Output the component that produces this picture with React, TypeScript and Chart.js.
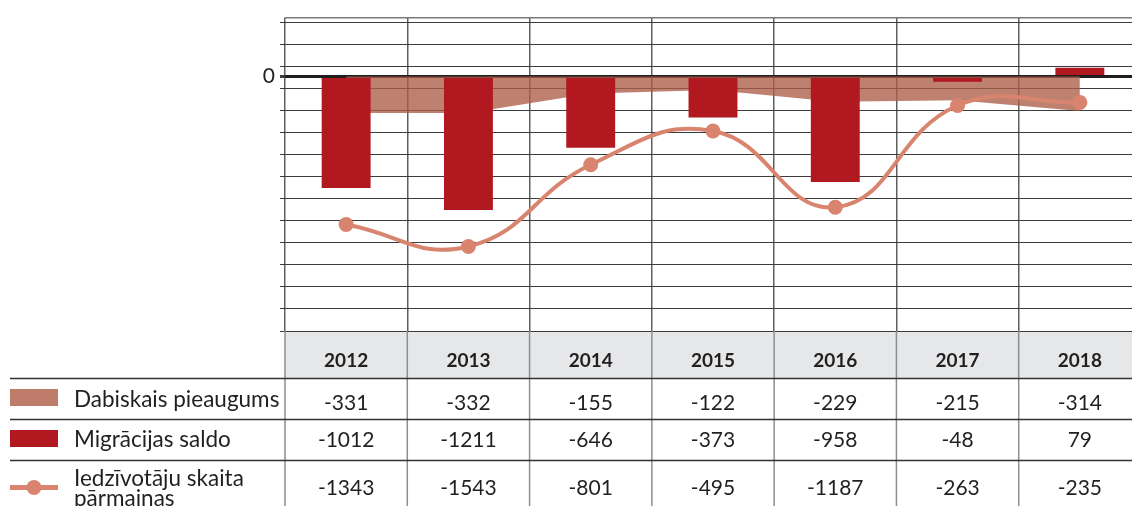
import { useEffect, useRef } from "react";
import { Chart, registerables } from "chart.js";

Chart.register(...registerables);

const years = ["2012", "2013", "2014", "2015", "2016", "2017", "2018"];
const naturalGrowth = [-331, -332, -155, -122, -229, -215, -314];
const migrationBalance = [-1012, -1211, -646, -373, -958, -48, 79];
const populationChange = [-1343, -1543, -801, -495, -1187, -263, -235];
const seriesLabels = ["Dabiskais pieaugums", "Migrācijas saldo", "Iedzīvotāju skaita pārmaiņas"];

const Y_MIN = -2310;
const Y_MAX = 535;
const GRID_STEP = 200;

const AREA_COLOR = "rgba(172, 92, 70, 0.78)";
const AREA_SWATCH = "#bf7c6b";
const BAR_COLOR = "#b11820";
const LINE_COLOR = "#d9846f";
const TEXT_COLOR = "#231f20";
const FONT = "Lato, 'Open Sans', sans-serif";

const RIGHT_PAD = 8;
const CANVAS_W = 1141 + RIGHT_PAD;
const CANVAS_H = 506;

function wrapText(ctx: CanvasRenderingContext2D, text: string, maxW: number): string[] {
  const words = text.split(" ");
  const lines: string[] = [];
  let cur = "";
  for (const w of words) {
    const t = cur ? cur + " " + w : w;
    if (ctx.measureText(t).width > maxW && cur) {
      lines.push(cur);
      cur = w;
    } else cur = t;
  }
  if (cur) lines.push(cur);
  return lines;
}

const tablePlugin = {
  id: "dataTable",
  afterDraw(chart: any) {
    const ctx: CanvasRenderingContext2D = chart.ctx;
    const { left, right, bottom } = chart.chartArea;
    const xs = chart.scales.x;
    const n = years.length;
    const colW = (right - left) / n;
    const H = chart.height;
    const headerBottom = 378;
    const rowLines = [378.5, 419.5, 460.5];
    const rowCenters = [403, 440.5, 488];

    ctx.save();
    ctx.fillStyle = "#e6e7e9";
    ctx.fillRect(left, bottom + 1, right - left, headerBottom - bottom - 1);

    ctx.strokeStyle = "#8e8e8e";
    ctx.lineWidth = 1.5;
    for (let i = 0; i <= n; i++) {
      const x = left + i * colW;
      ctx.beginPath();
      ctx.moveTo(x, bottom);
      ctx.lineTo(x, H);
      ctx.stroke();
    }

    ctx.strokeStyle = "#333";
    ctx.lineWidth = 1.5;
    for (const y of rowLines) {
      ctx.beginPath();
      ctx.moveTo(10, y);
      ctx.lineTo(right, y);
      ctx.stroke();
    }

    ctx.fillStyle = TEXT_COLOR;
    ctx.textAlign = "center";
    ctx.textBaseline = "middle";
    ctx.font = `bold 19px ${FONT}`;
    years.forEach((yr, i) => {
      ctx.fillText(yr, xs.getPixelForValue(i), 361);
    });

    ctx.font = `21px ${FONT}`;
    const rows = [naturalGrowth, migrationBalance, populationChange];
    rows.forEach((row, r) => {
      row.forEach((v, i) => {
        ctx.fillText(String(v), xs.getPixelForValue(i), rowCenters[r]);
      });
    });

    ctx.fillStyle = AREA_SWATCH;
    ctx.fillRect(10, 389, 48, 17);
    ctx.fillStyle = BAR_COLOR;
    ctx.fillRect(10, 430, 48, 17);
    ctx.strokeStyle = LINE_COLOR;
    ctx.lineWidth = 5;
    ctx.beginPath();
    ctx.moveTo(10, 487.5);
    ctx.lineTo(58, 487.5);
    ctx.stroke();
    ctx.fillStyle = LINE_COLOR;
    ctx.beginPath();
    ctx.arc(34, 487.5, 7.5, 0, Math.PI * 2);
    ctx.fill();

    ctx.fillStyle = TEXT_COLOR;
    ctx.textAlign = "left";
    ctx.textBaseline = "alphabetic";
    ctx.font = `22.5px ${FONT}`;
    ctx.fillText(seriesLabels[0], 74, 407);
    ctx.fillText(seriesLabels[1], 74, 447);
    const lines = wrapText(ctx, seriesLabels[2], left - 80);
    lines.forEach((ln, k) => ctx.fillText(ln, 74, 486 + k * 20));
    ctx.restore();
  },
};

export default function App() {
  const ref = useRef<HTMLCanvasElement>(null);

  useEffect(() => {
    if (!ref.current) return;
    const chart = new Chart(ref.current, {
      type: "bar",
      data: {
        labels: years,
        datasets: [
          {
            type: "line",
            label: seriesLabels[2],
            data: populationChange,
            borderColor: LINE_COLOR,
            backgroundColor: LINE_COLOR,
            borderWidth: 4,
            tension: 0.45,
            pointRadius: 7.5,
            pointHoverRadius: 7.5,
            pointBackgroundColor: LINE_COLOR,
            pointBorderWidth: 0,
            fill: false,
            order: 0,
          } as any,
          {
            type: "bar",
            label: seriesLabels[1],
            data: migrationBalance,
            backgroundColor: BAR_COLOR,
            barPercentage: 0.4,
            categoryPercentage: 1,
            order: 1,
          } as any,
          {
            type: "line",
            label: seriesLabels[0],
            data: naturalGrowth,
            borderWidth: 0,
            borderColor: "transparent",
            backgroundColor: AREA_COLOR,
            pointRadius: 0,
            tension: 0,
            fill: "origin",
            order: 2,
          } as any,
        ],
      },
      options: {
        responsive: true,
        maintainAspectRatio: false,
        animation: false,
        devicePixelRatio: 1,
        layout: { padding: { top: 13, bottom: 175, left: 0, right: RIGHT_PAD } },
        plugins: { legend: { display: false }, tooltip: { enabled: false } },
        scales: {
          x: {
            type: "category",
            offset: true,
            grid: { offset: true, color: "#5f5f5f", lineWidth: 1.5, drawTicks: false },
            ticks: { display: false },
            border: { display: false },
            afterFit: (s: any) => {
              s.height = 0;
            },
          },
          y: {
            min: Y_MIN,
            max: Y_MAX,
            afterBuildTicks: (s: any) => {
              const t: { value: number }[] = [];
              for (let v = Y_MIN; v < Y_MAX; v += GRID_STEP) t.push({ value: v });
              t.push({ value: 0 });
              t.push({ value: Y_MAX });
              t.sort((a, b) => a.value - b.value);
              s.ticks = t;
            },
            afterFit: (s: any) => {
              s.width = 285;
            },
            grid: {
              color: (c: any) => (c.tick && c.tick.value === 0 ? "#1e1e1e" : c.tick && c.tick.value === Y_MAX ? "#7a7a7a" : "#3c3c3c"),
              lineWidth: (c: any) => (c.tick && c.tick.value === 0 ? 3 : c.tick && c.tick.value === Y_MAX ? 1.5 : 1),
              tickLength: 5,
              tickColor: (c: any) => (c.tick && c.tick.value === Y_MAX ? "transparent" : "#3c3c3c"),
            },
            border: { display: false },
            ticks: {
              autoSkip: false,
              padding: 5,
              color: "#222",
              font: { family: FONT, size: 21 },
              callback: (v: any) => (Number(v) === 0 ? "0" : ""),
            },
          },
        },
      },
      plugins: [tablePlugin],
    });
    return () => chart.destroy();
  }, []);

  return (
    <div
      style={{
        position: "fixed",
        left: 0,
        top: 0,
        width: 1132,
        height: CANVAS_H,
        overflow: "hidden",
        background: "#fff",
      }}
    >
      <div style={{ position: "relative", width: CANVAS_W, minWidth: CANVAS_W, height: CANVAS_H }}>
        <canvas ref={ref} />
      </div>
    </div>
  );
}
